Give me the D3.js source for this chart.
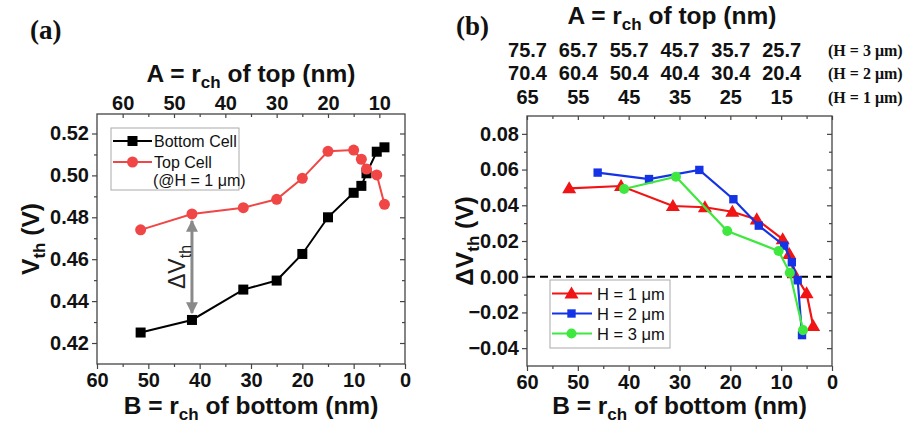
<!DOCTYPE html>
<html><head><meta charset="utf-8">
<script src="https://cdn.jsdelivr.net/npm/d3@7"></script>
<style>
body{margin:0;background:#fff}
svg{display:block;font-family:"Liberation Sans",Arial,sans-serif}
</style>
</head><body>
<svg id="c" width="919" height="425"></svg>
<script>
// ---------- data ----------
// panel (a): B = r_ch of bottom (nm)
const aB = [51.5, 41.5, 31.5, 25, 20, 15, 10, 8.5, 7.5, 5.5, 4];
const aBottomVth = [0.425, 0.431, 0.4455, 0.4498, 0.4625, 0.480, 0.4917, 0.495, 0.501, 0.5113, 0.5134];
const aTopVth = [0.474, 0.4816, 0.4846, 0.4886, 0.4986, 0.5115, 0.5121, 0.5077, 0.503, 0.5002, 0.4862];
const aArrowIndex = 1;
// panel (b): delta Vth vs B
const bH1B = [51.7, 41.5, 31.3, 25, 19.6, 14.8, 9.7, 8.4, 7.5, 5, 3.7];
const bH1dV = [0.0495, 0.0508, 0.0396, 0.0389, 0.0364, 0.0321, 0.021, 0.0127, 0.002, -0.0093, -0.0276];
const bH2B = [46.1, 36, 26.1, 19.4, 14.4, 9.4, 7.9, 6.75, 5.9];
const bH2dV = [0.0583, 0.0547, 0.0598, 0.0434, 0.0286, 0.0174, 0.0081, -0.002, -0.0327];
const bH3B = [40.9, 30.7, 20.6, 10.5, 8.3, 5.7];
const bH3dV = [0.0491, 0.056, 0.0256, 0.0144, 0.0022, -0.0299];
// ticks
const bottomTicks = [60, 50, 40, 30, 20, 10, 0];
const bottomMinor = [55, 45, 35, 25, 15, 5];
const aTopA = [60, 50, 40, 30, 20, 10];
const aTopAMinor = [55, 45, 35, 25, 15];
const aTopOffset = 5; // A = B + 5 (H = 1 um)
const aYTicks = [0.42, 0.44, 0.46, 0.48, 0.50, 0.52];
const aYMinor = [0.43, 0.45, 0.47, 0.49, 0.51];
const bYTicks = [0.08, 0.06, 0.04, 0.02, 0.00, -0.02, -0.04];
const bYMinor = [0.07, 0.05, 0.03, 0.01, -0.01, -0.03];
const bTopB = [60, 50, 40, 30, 20, 10];
const bTopH3 = ["75.7", "65.7", "55.7", "45.7", "35.7", "25.7"];
const bTopH2 = ["70.4", "60.4", "50.4", "40.4", "30.4", "20.4"];
const bTopH1 = ["65", "55", "45", "35", "25", "15"];
const bRowNames = ["(H = 3 \u03bcm)", "(H = 2 \u03bcm)", "(H = 1 \u03bcm)"];
const bLegend = ["H = 1 \u03bcm", "H = 2 \u03bcm", "H = 3 \u03bcm"];
const aLegend = ["Bottom Cell", "Top Cell", "(@H = 1 \u03bcm)"];

// ---------- layout ----------
const svg = d3.select("#c");
const TICKFONT = "20px", FRAME = "#444", SERIF = "'Liberation Serif','Times New Roman',serif";
const TITLE = 24.5;
const A = {l: 97, r: 405, t: 114, b: 364};
const Bp = {l: 527, r: 832, t: 116, b: 366};

const xa = d3.scaleLinear().domain([60, 0]).range([A.l, A.r]);
const xaTop = d3.scaleLinear().domain([60 + aTopOffset, aTopOffset]).range([A.l, A.r]);
const ya = d3.scaleLinear().domain([0.40998, 0.5293]).range([A.b, A.t]);
const xb = d3.scaleLinear().domain([60, 0]).range([Bp.l, Bp.r]);
const yb = d3.scaleLinear().domain([-0.05, 0.09]).range([Bp.b, Bp.t]);

function styleAxis(g, labelled) {
  g.attr("font-family", null).attr("font-size", null);
  g.select(".domain").remove();
  g.selectAll(".tick line").attr("stroke", FRAME).attr("stroke-width", 1.2);
  g.selectAll("text").style("font-size", TICKFONT).style("font-weight", "bold")
    .style("font-family", "'Liberation Sans',Arial,sans-serif").attr("fill", "#111");
  if (!labelled) g.selectAll("text").remove();
}

function frameAxes(P, x, y, yT, yMinor, yFmt) {
  const g = svg.append("g");
  g.append("g").attr("transform", `translate(0,${P.b})`)
    .call(d3.axisBottom(x).tickValues(bottomTicks).tickSize(5).tickPadding(4).tickFormat(d3.format("d")))
    .call(s => styleAxis(s, true));
  g.append("g").attr("transform", `translate(0,${P.b})`)
    .call(d3.axisBottom(x).tickValues(bottomMinor).tickSize(3).tickFormat(""))
    .call(s => styleAxis(s, false));
  g.append("g").attr("transform", `translate(${P.l},0)`)
    .call(d3.axisLeft(y).tickValues(yT).tickSize(5).tickPadding(3).tickFormat(yFmt))
    .call(s => styleAxis(s, true));
  g.append("g").attr("transform", `translate(${P.l},0)`)
    .call(d3.axisLeft(y).tickValues(yMinor).tickSize(3).tickFormat(""))
    .call(s => styleAxis(s, false));
  g.append("g").attr("transform", `translate(${P.r},0)`)
    .call(d3.axisRight(y).tickValues(yT).tickSize(-5).tickFormat(""))
    .call(s => styleAxis(s, false));
  g.append("g").attr("transform", `translate(${P.r},0)`)
    .call(d3.axisRight(y).tickValues(yMinor).tickSize(-3).tickFormat(""))
    .call(s => styleAxis(s, false));
  g.append("rect").attr("x", P.l).attr("y", P.t).attr("width", P.r - P.l).attr("height", P.b - P.t)
    .attr("fill", "none").attr("stroke", FRAME).attr("stroke-width", 1.3);
  return g;
}

function titleWithSub(g, x, y, pre, sub, post, size, rotate) {
  const t = g.append("text").style("font-weight", "bold").style("font-size", size + "px")
    .attr("text-anchor", "middle").attr("fill", "#111");
  if (rotate) t.attr("transform", `translate(${x},${y}) rotate(-90)`);
  else t.attr("x", x).attr("y", y);
  t.append("tspan").text(pre);
  t.append("tspan").style("font-size", Math.round(size * 0.7) + "px").attr("dy", size * 0.25).text(sub);
  t.append("tspan").attr("dy", -size * 0.25).text(post);
  return t;
}

// ================= panel (a) =================
const ga = frameAxes(A, xa, ya, aYTicks, aYMinor, d3.format(".2f"));
ga.append("g").attr("transform", `translate(0,${A.t})`)
  .call(d3.axisTop(xaTop).tickValues(aTopA).tickSize(-4).tickPadding(4).tickFormat(d3.format("d")))
  .call(s => styleAxis(s, true));
ga.append("g").attr("transform", `translate(0,${A.t})`)
  .call(d3.axisTop(xaTop).tickValues(aTopAMinor).tickSize(-3).tickFormat(""))
  .call(s => styleAxis(s, false));

titleWithSub(svg, (A.l + A.r) / 2, 82, "A = r", "ch", " of top (nm)", TITLE, false);
titleWithSub(svg, (A.l + A.r) / 2, 414, "B = r", "ch", " of bottom (nm)", TITLE, false);
titleWithSub(svg, 39, (A.t + A.b) / 2, "V", "th", " (V)", TITLE, true);
svg.append("text").attr("x", 30).attr("y", 39).style("font-family", SERIF)
  .style("font-weight", "bold").style("font-size", "27px").attr("fill", "#111").text("(a)");

const redA = "#f04646";
const lineA = d3.line().x(d => xa(d[0])).y(d => ya(d[1]));
const botPts = aB.map((b, i) => [b, aBottomVth[i]]);
const topPts = aB.map((b, i) => [b, aTopVth[i]]);
svg.append("path").datum(botPts).attr("d", lineA).attr("fill", "none").attr("stroke", "#000").attr("stroke-width", 2);
svg.selectAll(".bsq").data(botPts).enter().append("rect")
  .attr("x", d => xa(d[0]) - 5).attr("y", d => ya(d[1]) - 5).attr("width", 10).attr("height", 10).attr("fill", "#000");
svg.append("path").datum(topPts).attr("d", lineA).attr("fill", "none").attr("stroke", redA).attr("stroke-width", 2);
svg.selectAll(".tci").data(topPts).enter().append("circle")
  .attr("cx", d => xa(d[0])).attr("cy", d => ya(d[1])).attr("r", 5.5).attr("fill", redA);

// delta Vth arrow
const defs = svg.append("defs");
defs.append("marker").attr("id", "ah").attr("viewBox", "0 0 10 10").attr("refX", 9).attr("refY", 5)
  .attr("markerWidth", 4).attr("markerHeight", 4).attr("orient", "auto-start-reverse")
  .append("path").attr("d", "M0,0 L10,5 L0,10 Z").attr("fill", "#8a8a8a");
const ax = xa(aB[aArrowIndex]);
svg.append("line").attr("x1", ax).attr("x2", ax)
  .attr("y1", ya(aTopVth[aArrowIndex]) + 7).attr("y2", ya(aBottomVth[aArrowIndex]) - 7)
  .attr("stroke", "#8a8a8a").attr("stroke-width", 3)
  .attr("marker-start", "url(#ah)").attr("marker-end", "url(#ah)");
{
  const t = svg.append("text").attr("transform", `translate(185,267) rotate(-90)`)
    .attr("text-anchor", "middle").style("font-size", "23px").attr("fill", "#222");
  t.append("tspan").text("\u0394V");
  t.append("tspan").style("font-size", "16px").attr("dy", 6).text("th");
}

// legend (a)
{
  const lg = svg.append("g");
  lg.append("rect").attr("x", 111).attr("y", 128).attr("width", 128).attr("height", 62)
    .attr("fill", "#fff").attr("stroke", "#aaa").attr("stroke-width", 1);
  const rows = [141, 162];
  const cols = ["#000", redA];
  rows.forEach((ry, i) => {
    lg.append("line").attr("x1", 113).attr("x2", 152).attr("y1", ry).attr("y2", ry).attr("stroke", cols[i]).attr("stroke-width", 2);
    if (i === 0) lg.append("rect").attr("x", 127.5).attr("y", ry - 5).attr("width", 10).attr("height", 10).attr("fill", cols[i]);
    else lg.append("circle").attr("cx", 132.5).attr("cy", ry).attr("r", 5.5).attr("fill", cols[i]);
    lg.append("text").attr("x", 154).attr("y", ry + 5.5).style("font-size", "16px").attr("fill", "#111").text(aLegend[i]);
  });
  lg.append("text").attr("x", 153).attr("y", 185.5).style("font-size", "16px").attr("fill", "#111").text(aLegend[2]);
}

// ================= panel (b) =================
const gb = frameAxes(Bp, xb, yb, bYTicks, bYMinor, d3.format(".2f"));
gb.append("g").attr("transform", `translate(0,${Bp.t})`)
  .call(d3.axisTop(xb).tickValues(bottomTicks).tickSize(-4).tickFormat(""))
  .call(s => styleAxis(s, false));
gb.append("g").attr("transform", `translate(0,${Bp.t})`)
  .call(d3.axisTop(xb).tickValues(bottomMinor).tickSize(-3).tickFormat(""))
  .call(s => styleAxis(s, false));

[[bTopH3, 57], [bTopH2, 80], [bTopH1, 104]].forEach(([labels, by], ri) => {
  svg.append("g").attr("transform", `translate(0,${by})`)
    .call(d3.axisTop(xb).tickValues(bTopB).tickSize(0).tickPadding(0).tickFormat((d, i) => labels[i]))
    .call(s => { styleAxis(s, true); s.selectAll("text").attr("dy", "0em"); });
  svg.append("text").attr("x", 828).attr("y", by - 1).style("font-family", SERIF)
    .style("font-weight", "bold").style("font-size", "16px").attr("fill", "#111").text(bRowNames[ri]);
});

titleWithSub(svg, 672, 24, "A = r", "ch", " of top (nm)", TITLE, false);
titleWithSub(svg, (Bp.l + Bp.r) / 2, 414, "B = r", "ch", " of bottom (nm)", TITLE, false);
titleWithSub(svg, 473, (Bp.t + Bp.b) / 2, "\u0394V", "th", " (V)", TITLE, true);
svg.append("text").attr("x", 456).attr("y", 35).style("font-family", SERIF)
  .style("font-weight", "bold").style("font-size", "27px").attr("fill", "#111").text("(b)");

svg.append("line").attr("x1", Bp.l).attr("x2", Bp.r).attr("y1", yb(0)).attr("y2", yb(0))
  .attr("stroke", "#000").attr("stroke-width", 2).attr("stroke-dasharray", "8,5");

const cR = "#f01414", cB = "#1433e6", cG = "#3ee83e";
const lineB = d3.line().x(d => xb(d[0])).y(d => yb(d[1]));
const series = [
  {B: bH1B, V: bH1dV, c: cR, sym: d3.symbolTriangle, size: 85},
  {B: bH2B, V: bH2dV, c: cB, sym: d3.symbolSquare, size: 70},
  {B: bH3B, V: bH3dV, c: cG, sym: d3.symbolCircle, size: 80}
];
series.forEach(s => {
  const pts = s.B.map((b, i) => [b, s.V[i]]);
  svg.append("path").datum(pts).attr("d", lineB).attr("fill", "none").attr("stroke", s.c).attr("stroke-width", 2.2);
  svg.selectAll(null).data(pts).enter().append("path")
    .attr("transform", d => `translate(${xb(d[0])},${yb(d[1]) + (s.sym === d3.symbolTriangle ? 1 : 0)})`)
    .attr("d", d3.symbol(s.sym, s.size)).attr("fill", s.c);
});

{
  const lg = svg.append("g");
  lg.append("rect").attr("x", 550).attr("y", 280).attr("width", 120).attr("height", 68)
    .attr("fill", "#fff").attr("stroke", "#aaa").attr("stroke-width", 1);
  [293.5, 313.5, 333.5].forEach((ry, i) => {
    const s = series[i];
    lg.append("line").attr("x1", 552).attr("x2", 592).attr("y1", ry).attr("y2", ry).attr("stroke", s.c).attr("stroke-width", 2.2);
    lg.append("path").attr("transform", `translate(571.5,${ry + (i === 0 ? 1 : 0)})`).attr("d", d3.symbol(s.sym, s.size)).attr("fill", s.c);
    lg.append("text").attr("x", 597).attr("y", ry + 6).style("font-size", "16.5px").attr("fill", "#111").text(bLegend[i]);
  });
}
</script>
</body></html>
